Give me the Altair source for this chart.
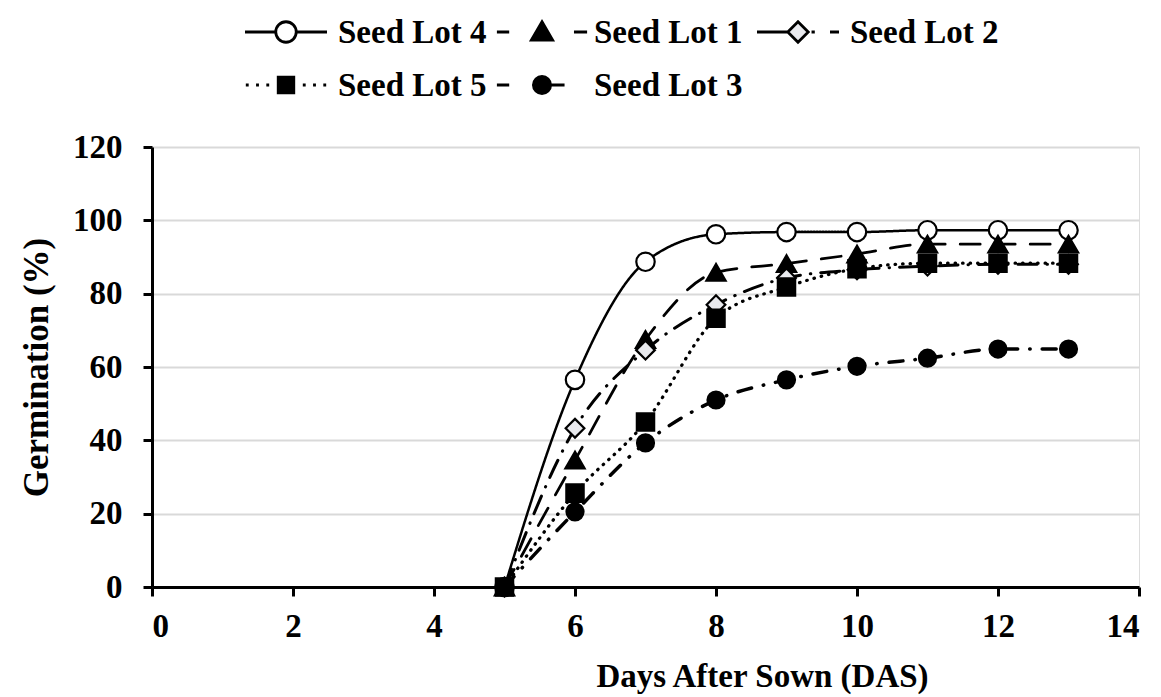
import altair as alt
import pandas as pd

days = [5, 6, 7, 8, 9, 10, 11, 12, 13]
lots = ["Seed Lot 4", "Seed Lot 1", "Seed Lot 2", "Seed Lot 5", "Seed Lot 3"]
lot4 = [0, 56.5, 88.7, 96.2, 96.8, 96.8, 97.3, 97.3, 97.3]
lot1 = [0, 34.6, 67.5, 85.8, 88.2, 90.8, 93.5, 93.5, 93.5]
lot2 = [0, 43.3, 64.6, 77.0, 84.3, 86.5, 87.5, 88.0, 88.0]
lot5 = [0, 25.6, 45.0, 73.3, 81.8, 86.8, 88.3, 88.3, 88.3]
lot3 = [0, 20.5, 39.3, 51.0, 56.5, 60.2, 62.4, 64.9, 64.9]
x_ticks = [0, 2, 4, 6, 8, 10, 12, 14]
y_ticks = [0, 20, 40, 60, 80, 100, 120]

series = {"Seed Lot 4": lot4, "Seed Lot 1": lot1, "Seed Lot 2": lot2,
          "Seed Lot 5": lot5, "Seed Lot 3": lot3}
rows = []
for name in lots:
    for d, v in zip(days, series[name]):
        rows.append({"lot": name, "day": d, "germ": v})
df = pd.DataFrame(rows)

# legend table: 3 entries per row, in legend order
legend_df = pd.DataFrame({
    "lot": lots,
    "col": [i % 3 for i in range(len(lots))],
    "row": [i // 3 for i in range(len(lots))],
})

FONT = "Liberation Serif"

# styles
dash_range = [[1, 0], [20, 15], [19, 10, 0.5, 10], [0.5, 7], [14, 12, 0.5, 12]]
width_range = [2.5, 3.5, 3.5, 3.5, 3.5]
marker_style = {
    "Seed Lot 4": dict(shape="circle", fill="#ffffff", size=340),
    "Seed Lot 1": dict(shape="triangle-up", fill="#000000", size=370),
    "Seed Lot 2": dict(shape="diamond", fill="#e9eaee", size=350),
    "Seed Lot 5": dict(shape="square", fill="#000000", size=300),
    "Seed Lot 3": dict(shape="circle", fill="#000000", size=290),
}
fill_range = [marker_style[n]["fill"] for n in lots]

# legend key symbols: line pieces + marker inside a -1..1 box (41 px per unit)
leg_paths = [
    "M-1,0L-0.25,0M0.25,0L1,0M-0.25,0A0.25,0.25 0 1,1 0.25,0A0.25,0.25 0 1,1 -0.25,0Z",
    "M-1.1,0L-0.8,0M0.78,0L1.1,0M0,-0.25L0.26,0.2L-0.26,0.2Z",
    "M-1,0L-0.25,0M0.33,0L0.41,0M0.78,0L1.0,0M-0.25,0L0,-0.25L0.25,0L0,0.25Z",
    "M-0.98,0L-0.91,0M-0.73,0L-0.66,0M-0.48,0L-0.41,0M-0.19,-0.19L0.19,-0.19L0.19,0.19L-0.19,0.19ZM0.41,0L0.48,0M0.66,0L0.73,0M0.91,0L0.98,0",
    "M-1.1,0L-0.8,0M0.2,0L0.55,0M-0.21,0A0.21,0.21 0 1,1 0.21,0A0.21,0.21 0 1,1 -0.21,0Z",
]

x_enc = alt.X("day:Q", scale=alt.Scale(domain=[0, 14], nice=False, zero=False),
              axis=alt.Axis(values=x_ticks, title="Days After Sown (DAS)", grid=False,
                            domainColor="black", domainWidth=3, tickColor="black",
                            tickWidth=3, tickSize=9, labelFont=FONT, labelFontSize=33,
                            labelFontWeight="bold", labelColor="black", labelPadding=14,
                            titleFont=FONT, titleFontSize=33, titleFontWeight="bold",
                            titleColor="black", titleX=610, titleY=99,
                            titleBaseline="alphabetic"))
y_enc = alt.Y("germ:Q", scale=alt.Scale(domain=[0, 120], nice=False),
              axis=alt.Axis(values=y_ticks, title="Germination (%)", grid=True,
                            gridColor="#d9d9d9", gridWidth=2,
                            domainColor="black", domainWidth=3, tickColor="black",
                            tickWidth=3, tickSize=9, labelFont=FONT, labelFontSize=33,
                            labelFontWeight="bold", labelColor="black", labelPadding=21,
                            titleFont=FONT, titleFontSize=35, titleFontWeight="bold",
                            titleColor="black", titleX=-116, titleY=220,
                            titleBaseline="middle"))

base = alt.Chart(df)

lines = base.mark_line(interpolate="monotone", color="black", strokeCap="round").encode(
    x=x_enc, y=y_enc,
    strokeDash=alt.StrokeDash("lot:N", scale=alt.Scale(domain=lots, range=dash_range), legend=None),
    strokeWidth=alt.StrokeWidth("lot:N", scale=alt.Scale(domain=lots, range=width_range), legend=None),
)

point_layers = []
for name in lots:
    st = marker_style[name]
    point_layers.append(
        base.transform_filter(alt.datum.lot == name).mark_point(
            filled=True, stroke="black", strokeWidth=2.2, opacity=1,
            shape=st["shape"], fill=st["fill"], size=st["size"],
        ).encode(x=x_enc, y=y_enc)
    )

main = alt.layer(lines, *point_layers)

# legend drawn above the plot area, placed by its own column / row scales
lx = alt.X("col:Q", scale=alt.Scale(domain=[0, 2], range=[134, 646]), axis=None)
ly = alt.Y("row:Q", scale=alt.Scale(domain=[0, 1], range=[-115, -62]), axis=None)
leg_base = alt.Chart(legend_df)
leg_keys = leg_base.mark_point(filled=True, stroke="black", strokeWidth=2.8,
                               opacity=1, size=6724).encode(
    x=lx, y=ly,
    shape=alt.Shape("lot:N", scale=alt.Scale(domain=lots, range=leg_paths), legend=None),
    fill=alt.Fill("lot:N", scale=alt.Scale(domain=lots, range=fill_range), legend=None),
)
leg_text = leg_base.mark_text(align="left", baseline="middle", dx=52, dy=1,
                              font=FONT, fontSize=33, fontWeight="bold",
                              color="black").encode(x=lx, y=ly, text="lot:N")
legend = alt.layer(leg_keys, leg_text)

chart = alt.layer(main, legend).resolve_scale(
    x="independent", y="independent"
).properties(
    width=987, height=440,
    autosize=alt.AutoSizeParams(type="none"),
    padding={"left": 144, "top": 139, "right": 14, "bottom": 110},
).configure_view(stroke=None).configure(background="white")

chart.save("out.html", embed_options={"renderer": "svg", "actions": False})
